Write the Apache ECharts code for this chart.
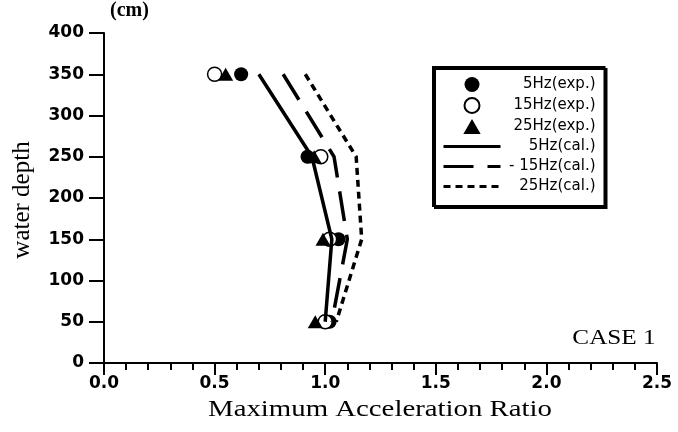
<!DOCTYPE html>
<html>
<head>
<meta charset="utf-8">
<script src="https://cdn.jsdelivr.net/npm/echarts@6/dist/echarts.min.js"></script>
<style>
  html, body { margin: 0; padding: 0; background: #fff; }
  #chart { width: 678px; height: 432px; }
</style>
</head>
<body>
<div id="chart"></div>
<script>
  // depth levels (cm) and measured / calculated ratios
  const depths = [350, 250, 150, 50]
  const exp5 = [0.62, 0.92, 1.06, 1.02]
  const exp15 = [0.50, 0.98, 1.02, 1.00]
  const exp25 = [0.55, 0.95, 0.99, 0.955]
  const cal5 = [0.70, 0.94, 1.03, 1.00]
  const cal15 = [0.81, 1.04, 1.10, 1.03]
  const cal25 = [0.91, 1.14, 1.165, 1.05]
  const xTicks = [0, 0.5, 1.0, 1.5, 2.0, 2.5]
  const yTicks = [0, 50, 100, 150, 200, 250, 300, 350, 400]

  const pairs = (xs) => xs.map((v, i) => [v, depths[i]])
  const sans = 'DejaVu Sans'
  const serif = 'Liberation Serif'
  const triIcon = 'path://M7.5,0 L15,13 L0,13 Z'

  const chart = echarts.init(document.getElementById('chart'))
  chart.setOption({
    animation: false,
    grid: { left: 104, right: 21, top: 33, bottom: 69 },
    xAxis: {
      type: 'value',
      min: xTicks[0],
      max: xTicks[xTicks.length - 1],
      interval: 0.5,
      axisLine: { lineStyle: { color: '#000', width: 2 } },
      axisTick: { length: 12, lineStyle: { color: '#000', width: 2 } },
      minorTick: { show: true, splitNumber: 5, length: 7, lineStyle: { color: '#000', width: 2 } },
      splitLine: { show: false },
      axisLabel: {
        margin: 12,
        fontFamily: sans, fontWeight: 'bold', fontSize: 17, color: '#000',
        formatter: (v) => v.toFixed(1)
      }
    },
    yAxis: {
      type: 'value',
      min: yTicks[0],
      max: yTicks[yTicks.length - 1],
      interval: 50,
      axisLine: { lineStyle: { color: '#000', width: 2 } },
      axisTick: { length: 15, lineStyle: { color: '#000', width: 2 } },
      splitLine: { show: false },
      axisLabel: {
        margin: 20,
        fontFamily: sans, fontWeight: 'bold', fontSize: 17, color: '#000'
      }
    },
    legend: {
      orient: 'vertical',
      left: 433,
      top: 67,
      padding: [10, 9, 12, 9],
      itemWidth: 57,
      itemHeight: 15,
      itemGap: 5,
      backgroundColor: '#fff',
      borderColor: '#000',
      borderWidth: 2,
      borderRadius: 0,
      shadowColor: '#000',
      shadowOffsetX: 2,
      shadowOffsetY: 2,
      shadowBlur: 0,
      lineStyle: { width: 3 },
      formatter: (name) => '{t|' + name + '}',
      textStyle: {
        rich: {
          t: { width: 90, align: 'right', fontFamily: sans, fontSize: 15, color: '#000' }
        }
      },
      data: [
        { name: '5Hz(exp.)' },
        { name: '15Hz(exp.)' },
        { name: '25Hz(exp.)', icon: triIcon },
        { name: '5Hz(cal.)' },
        { name: '- 15Hz(cal.)' },
        { name: '25Hz(cal.)' }
      ]
    },
    graphic: [
      {
        type: 'text', left: 110, top: 1,
        style: { text: '(cm)', fontFamily: serif, fontWeight: 'bold', fontSize: 20, fill: '#000' }
      },
      {
        type: 'text', x: 614, y: 338, scaleX: 1.2,
        style: { text: 'CASE 1', fontFamily: serif, fontSize: 21, fill: '#000', textAlign: 'center', textVerticalAlign: 'middle' }
      },
      {
        type: 'text', x: 380, y: 410, scaleX: 1.2,
        style: { text: 'Maximum Acceleration Ratio', fontFamily: serif, fontSize: 24, fill: '#000', textAlign: 'center', textVerticalAlign: 'middle' }
      },
      {
        type: 'text', x: 22, y: 200, rotation: Math.PI / 2,
        style: { text: 'water depth', fontFamily: serif, fontSize: 25, fill: '#000', textAlign: 'center', textVerticalAlign: 'middle' }
      }
    ],
    series: [
      {
        name: '5Hz(cal.)', type: 'line', data: pairs(cal5), symbol: 'none',
        lineStyle: { color: '#000', width: 3.5 }, itemStyle: { color: 'rgba(0,0,0,0)' }
      },
      {
        name: '- 15Hz(cal.)', type: 'line', data: pairs(cal15), symbol: 'none',
        lineStyle: { color: '#000', width: 3.5, type: [30, 14] }, itemStyle: { color: 'rgba(0,0,0,0)' }
      },
      {
        name: '25Hz(cal.)', type: 'line', data: pairs(cal25), symbol: 'none',
        lineStyle: { color: '#000', width: 3.5, type: [7, 5] }, itemStyle: { color: 'rgba(0,0,0,0)' }
      },
      {
        name: '5Hz(exp.)', type: 'scatter', data: pairs(exp5), symbol: 'circle', symbolSize: 14,
        itemStyle: { color: '#000', opacity: 1 }
      },
      {
        name: '15Hz(exp.)', type: 'scatter', data: pairs(exp15), symbol: 'circle', symbolSize: 14,
        itemStyle: { color: '#fff', borderColor: '#000', borderWidth: 1.5, opacity: 1 }
      },
      {
        name: '25Hz(exp.)', type: 'scatter', data: pairs(exp25), symbol: 'triangle', symbolSize: [15, 13],
        itemStyle: { color: '#000', opacity: 1 }
      }
    ]
  })
</script>
</body>
</html>
